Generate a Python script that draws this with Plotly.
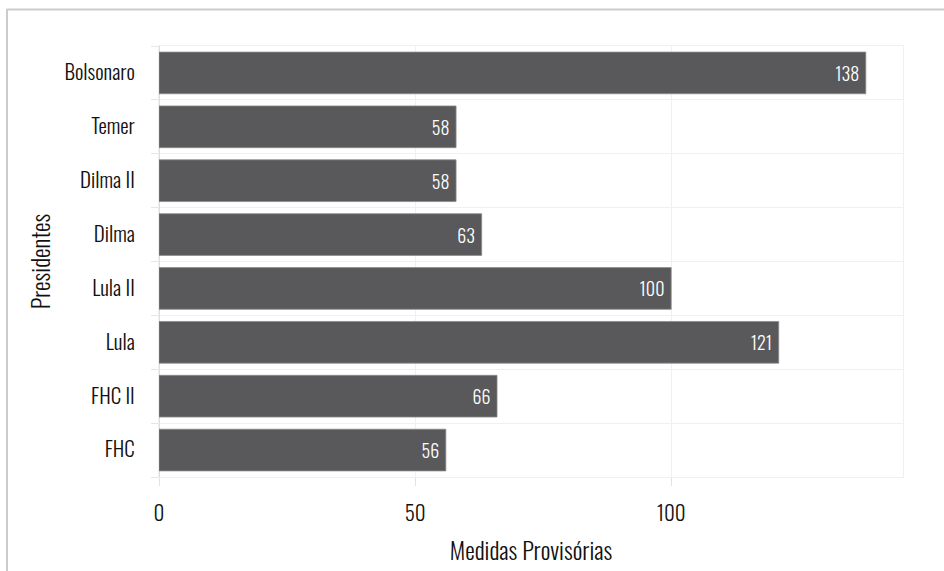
import plotly.graph_objects as go

# Medidas provisórias editadas por mandato presidencial
presidentes = ["FHC", "FHC II", "Lula", "Lula II", "Dilma", "Dilma II", "Temer", "Bolsonaro"]
medidas = [56, 66, 121, 100, 63, 58, 58, 138]

FONT = "Oswald, Barlow Condensed, sans-serif"
W, H = 944, 571
ML, MR, MT, MB = 159, 41, 46, 94
PW, PH = W - ML - MR, H - MT - MB


def px_x(x):
    return (x - ML) / PW


def px_y(y):
    return (H - MB - y) / PH


fig = go.Figure(
    go.Bar(
        x=medidas,
        y=presidentes,
        orientation="h",
        marker=dict(color="#59595b", line=dict(color="#8a8a8a", width=0.8)),
        texttemplate="%{x}\u00a0",
        textposition="inside",
        insidetextanchor="end",
        textfont=dict(family=FONT, size=18, color="white", weight=300),
        hoverinfo="skip",
    )
)

# moldura externa
fig.add_shape(type="line", xref="paper", yref="paper",
              x0=px_x(7), x1=px_x(W + 20), y0=px_y(9.5), y1=px_y(9.5),
              line=dict(color="#cccccc", width=2))
fig.add_shape(type="line", xref="paper", yref="paper",
              x0=px_x(7), x1=px_x(7), y0=px_y(9), y1=px_y(H + 20),
              line=dict(color="#cccccc", width=2))

fig.update_layout(
    width=W,
    height=H,
    margin=dict(l=ML, r=MR, t=MT, b=MB),
    plot_bgcolor="white",
    paper_bgcolor="white",
    bargap=0.226,
    showlegend=False,
    font=dict(family=FONT, size=21, color="#111111", weight=300),
    xaxis=dict(
        title=dict(text="Medidas Provisórias", font=dict(size=24, weight=300), standoff=16),
        dtick=50,
        tick0=0,
        ticks="outside",
        ticklen=8,
        tickcolor="#e2e2e2",
        tickwidth=1,
        showgrid=True,
        gridcolor="#f0f0f0",
        zeroline=True,
        zerolinecolor="#dedede",
        zerolinewidth=2,
        showline=True,
        mirror=True,
        linecolor="#f0f0f0",
        ticklabelstandoff=10,
        automargin=False,
    ),
    yaxis=dict(
        title=dict(text="Presidentes", font=dict(size=24, weight=300), standoff=6),
        categoryorder="array",
        categoryarray=presidentes,
        tickson="boundaries",
        ticks="outside",
        ticklen=7,
        tickcolor="#e6e6e6",
        showgrid=True,
        gridcolor="#f0f0f0",
        showline=True,
        mirror=True,
        linecolor="#f0f0f0",
        ticklabelstandoff=19,
        automargin=False,
    ),
)

fig.write_html("out.html")
